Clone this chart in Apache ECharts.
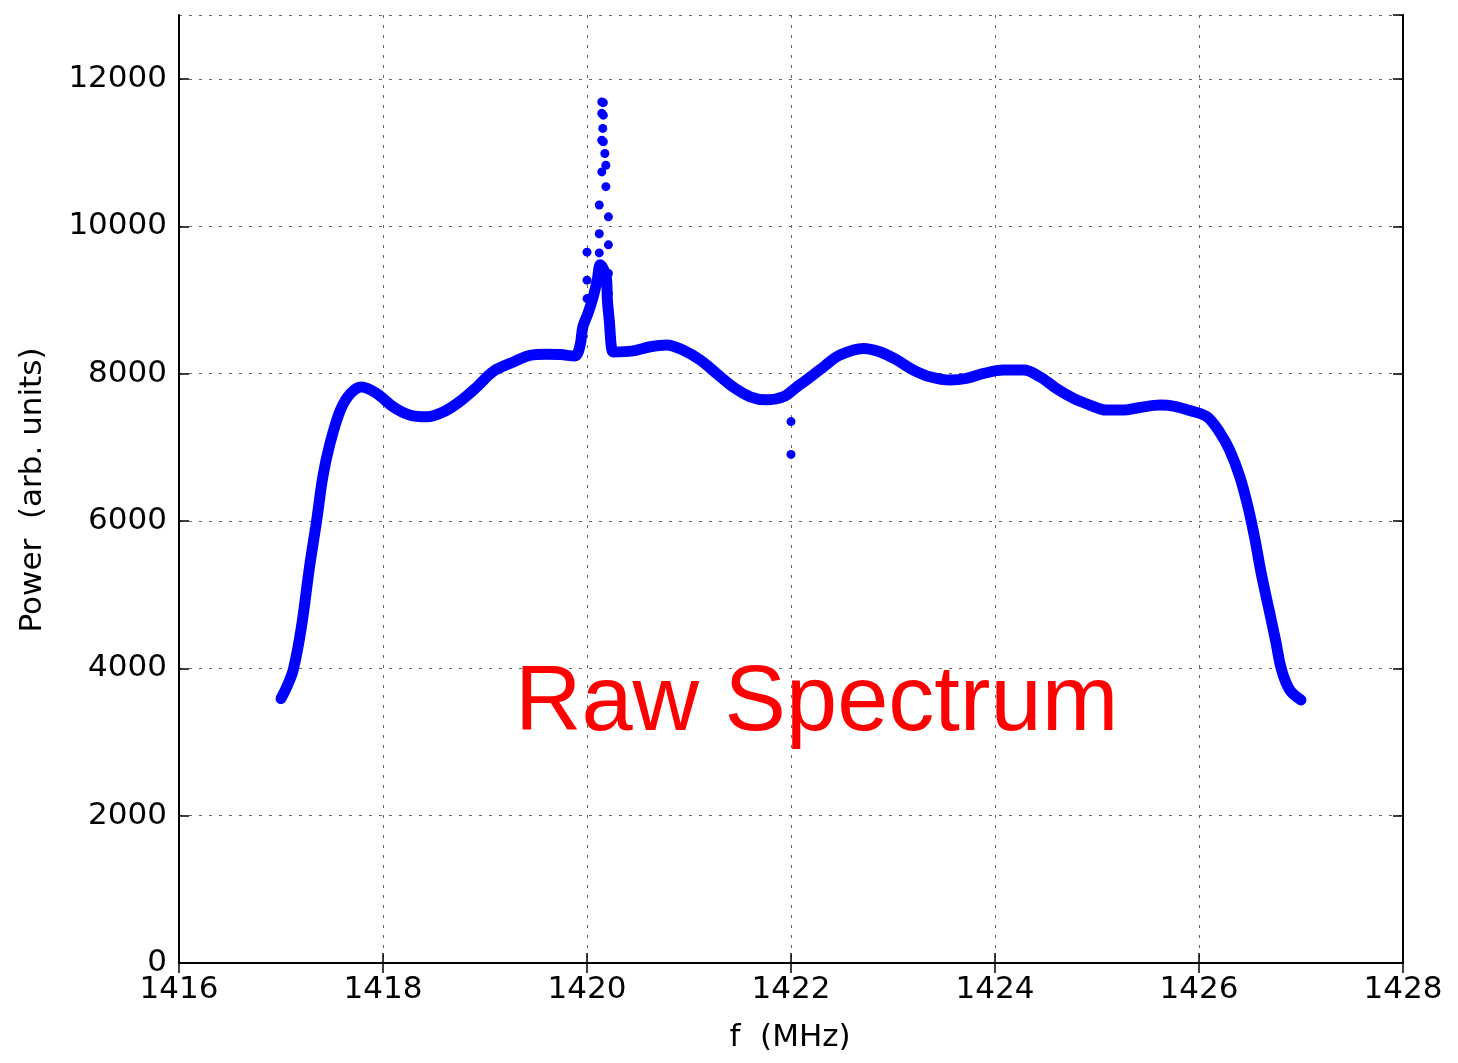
<!DOCTYPE html>
<html>
<head>
<meta charset="utf-8">
<script src="https://cdn.jsdelivr.net/npm/echarts@6/dist/echarts.min.js"></script>
<style>
html,body{margin:0;padding:0;background:#fff;}
#c{width:1458px;height:1063px;}
</style>
</head>
<body>
<div id="c"></div>
<script>
// Continuous (dense) part of the raw spectrum: frequency (MHz) and power (arb. units)
const curveFreq = [
  1417.00, 1417.06, 1417.12, 1417.20, 1417.28, 1417.35, 1417.41, 1417.48, 1417.58, 1417.68,
  1417.79, 1417.94, 1418.10, 1418.26, 1418.43, 1418.59, 1418.75, 1418.92, 1419.08, 1419.28,
  1419.44, 1419.60, 1419.74, 1419.88, 1419.93, 1419.96, 1420.01, 1420.06, 1420.10, 1420.13,
  1420.19, 1420.20, 1420.22, 1420.24, 1420.26, 1420.45, 1420.62, 1420.78, 1420.94, 1421.11,
  1421.27, 1421.43, 1421.60, 1421.76, 1421.93, 1422.06, 1422.15, 1422.32, 1422.48, 1422.71,
  1422.87, 1423.04, 1423.20, 1423.36, 1423.56, 1423.72, 1423.89, 1424.08, 1424.28, 1424.44,
  1424.60, 1424.77, 1424.93, 1425.09, 1425.26, 1425.42, 1425.62, 1425.75, 1425.91, 1426.08,
  1426.21, 1426.30, 1426.40, 1426.48, 1426.55, 1426.61, 1426.68, 1426.75, 1426.81, 1426.89,
  1427.00
];
const curvePower = [
  3590, 3760, 3980, 4560, 5380, 6010, 6600, 7050, 7500, 7730,
  7820, 7730, 7550, 7440, 7415, 7480, 7620, 7820, 8030, 8160,
  8250, 8265, 8260, 8240, 8370, 8640, 8820, 9040, 9270, 9480,
  9300, 9000, 8700, 8350, 8295, 8310, 8366, 8389, 8321, 8185,
  8004, 7823, 7687, 7645, 7690, 7823, 7914, 8094, 8253, 8344,
  8298, 8185, 8050, 7959, 7914, 7936, 8004, 8050, 8050, 7959,
  7801, 7665, 7574, 7506, 7506, 7542, 7574, 7560, 7500, 7415,
  7189, 6963, 6601, 6194, 5742, 5289, 4837, 4385, 3977, 3706,
  3570
];
// Isolated points of the hydrogen-line spike and the two dips at 1422 MHz
const spikeFreq = [
  1420.00, 1420.00, 1420.00,
  1420.12, 1420.12, 1420.12, 1420.12,
  1420.145, 1420.16, 1420.145, 1420.16, 1420.155, 1420.145, 1420.16, 1420.175, 1420.185,
  1420.145, 1420.185, 1420.21, 1420.21, 1420.21, 1420.21, 1420.21,
  1422.00, 1422.00
];
const spikePower = [
  9650, 9270, 9020,
  10290, 9900, 9640, 9460,
  11690, 11680, 11535, 11510, 11330, 11170, 11150, 10990, 10830,
  10740, 10540, 10130, 9750, 9360, 9090, 8860,
  7350, 6905
];
const xTicks = {min: 1416, max: 1428, interval: 2};
const yTicks = {min: 0, max: 12870, interval: 2000};
const xTitle = 'f  (MHz)';
const yTitle = 'Power  (arb. units)';
const note = 'Raw Spectrum';

const curveData = curveFreq.map((f, i) => [f, curvePower[i]]);
const spikeData = spikeFreq.map((f, i) => [f, spikePower[i]]);

const FONT = 'DejaVu Sans';
const gridLine = {show: true, lineStyle: {color: '#666', width: 1, type: [3, 7]}};
const frameLine = {show: true, lineStyle: {color: '#000', width: 2}};
const tick = {show: true, inside: true, length: 10, lineStyle: {color: '#000', width: 1.5}};
const plain = v => String(v);

const chart = echarts.init(document.getElementById('c'), null, {renderer: 'canvas'});
chart.setOption({
  animation: false,
  backgroundColor: '#fff',
  grid: {left: 179, right: 55, top: 15, bottom: 100, containLabel: false, outerBoundsMode: 'none', show: false},
  xAxis: [
    {type: 'value', position: 'bottom', min: xTicks.min, max: xTicks.max, interval: xTicks.interval,
     axisLine: frameLine, axisTick: tick, splitLine: gridLine,
     axisLabel: {color: '#000', fontFamily: FONT, fontSize: 31, margin: 11, formatter: plain}},
    {type: 'value', position: 'top', min: xTicks.min, max: xTicks.max, interval: xTicks.interval,
     axisLine: frameLine, axisTick: tick, splitLine: {show: false}, axisLabel: {show: false}}
  ],
  yAxis: [
    {type: 'value', position: 'left', min: yTicks.min, max: yTicks.max, interval: yTicks.interval,
     axisLine: frameLine, axisTick: tick, splitLine: gridLine,
     axisLabel: {color: '#000', fontFamily: FONT, fontSize: 31, margin: 12, showMaxLabel: false, formatter: plain}},
    {type: 'value', position: 'right', min: yTicks.min, max: yTicks.max, interval: yTicks.interval,
     axisLine: frameLine, axisTick: tick, splitLine: {show: false}, axisLabel: {show: false}}
  ],
  series: [
    {type: 'line', xAxisIndex: 0, yAxisIndex: 0, data: curveData, showSymbol: false, symbol: 'none',
     smooth: 0.35,
     lineStyle: {color: '#0000ff', width: 11, cap: 'round', join: 'round', opacity: 1}, z: 3},
    {type: 'scatter', xAxisIndex: 0, yAxisIndex: 0, data: spikeData, symbol: 'circle', symbolSize: 9,
     itemStyle: {color: '#0000ff', opacity: 1}, z: 4}
  ],
  graphic: [
    {type: 'text', x: 790, y: 1038, z: 10,
     style: {text: xTitle, fill: '#000', font: '31px "DejaVu Sans"', textAlign: 'center', textVerticalAlign: 'middle', verticalAlign: 'middle'}},
    {type: 'text', x: 33, y: 490, rotation: Math.PI / 2, z: 10,
     style: {text: yTitle, fill: '#000', font: '31px "DejaVu Sans"', textAlign: 'center', textVerticalAlign: 'middle', verticalAlign: 'middle'}},
    {type: 'text', x: 515, y: 705, z: 10,
     style: {text: note, fill: '#ff0000', font: '92px "Liberation Sans"', textAlign: 'left', textVerticalAlign: 'middle', verticalAlign: 'middle'}}
  ]
});
</script>
</body>
</html>
